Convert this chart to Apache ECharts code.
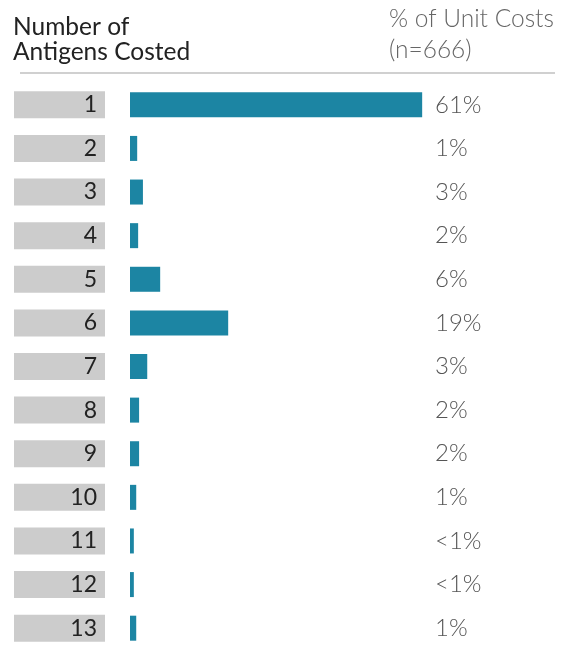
<!DOCTYPE html>
<html>
<head>
<meta charset="utf-8">
<script src="https://cdn.jsdelivr.net/npm/echarts@6/dist/echarts.min.js"></script>
<style>
    html, body { margin: 0; padding: 0; background: #fff; }
    #chart { width: 561px; height: 653px; }
</style>
</head>
<body>
<div id="chart"></div>
<script>
const categories = ['1', '2', '3', '4', '5', '6', '7', '8', '9', '10', '11', '12', '13'];
// bar lengths (percent of unit costs)
const shares = [61, 1.5, 2.7, 1.7, 6.3, 20.5, 3.6, 1.9, 1.9, 1.3, 0.8, 0.8, 1.3];
const shareLabels = ['61%', '1%', '3%', '2%', '6%', '19%', '3%', '2%', '2%', '1%', '<1%', '<1%', '1%'];

const fontFamily = 'Lato, "Noto Sans", sans-serif';
const barColor = '#1c85a3';
const boxColor = '#cccccc';

const chart = echarts.init(document.getElementById('chart'), null, { renderer: 'canvas' });

const gridTop = 83;
const gridHeight = 567;

chart.setOption({
    animation: false,
    grid: [
        { left: 14, top: gridTop, width: 91, height: gridHeight },
        { left: 130, top: gridTop, width: 296, height: gridHeight }
    ],
    xAxis: [
        { gridIndex: 0, type: 'value', min: 0, max: 1, show: false },
        { gridIndex: 1, type: 'value', min: 0, max: 61.8, show: false }
    ],
    yAxis: [
        {
            gridIndex: 0, type: 'category', data: categories, inverse: true,
            axisLine: { show: false }, axisTick: { show: false }, axisLabel: { show: false }
        },
        {
            gridIndex: 1, type: 'category', data: shareLabels, inverse: true, position: 'right',
            axisLine: { show: false }, axisTick: { show: false },
            axisLabel: {
                margin: 9, align: 'left', color: '#555',
                fontFamily: fontFamily, fontSize: 24, fontWeight: 300,
                padding: [0, 0, 4, 0]
            }
        }
    ],
    series: [
        {
            type: 'bar', xAxisIndex: 0, yAxisIndex: 0,
            data: categories.map(() => 1),
            barWidth: 27,
            itemStyle: { color: boxColor },
            label: {
                show: true, position: 'insideRight', distance: 8,
                formatter: (p) => categories[p.dataIndex],
                color: '#222', fontFamily: fontFamily, fontSize: 23
            },
            silent: true
        },
        {
            type: 'bar', xAxisIndex: 1, yAxisIndex: 1,
            data: shares,
            barWidth: 25,
            itemStyle: { color: barColor },
            silent: true
        }
    ],
    graphic: [
        {
            type: 'text', left: 13, top: 15,
            style: {
                text: 'Number of\nAntigens Costed', fill: '#222',
                font: '24.5px ' + fontFamily, lineHeight: 25
            }
        },
        {
            type: 'text', left: 389, top: 4,
            style: {
                text: '% of Unit Costs\n(n=666)', fill: '#666',
                font: '300 24.5px ' + fontFamily, lineHeight: 31
            }
        },
        {
            type: 'line', shape: { x1: 20, y1: 73, x2: 555, y2: 73 },
            style: { stroke: '#d0d0d0', lineWidth: 2 }
        }
    ]
});
</script>
</body>
</html>
